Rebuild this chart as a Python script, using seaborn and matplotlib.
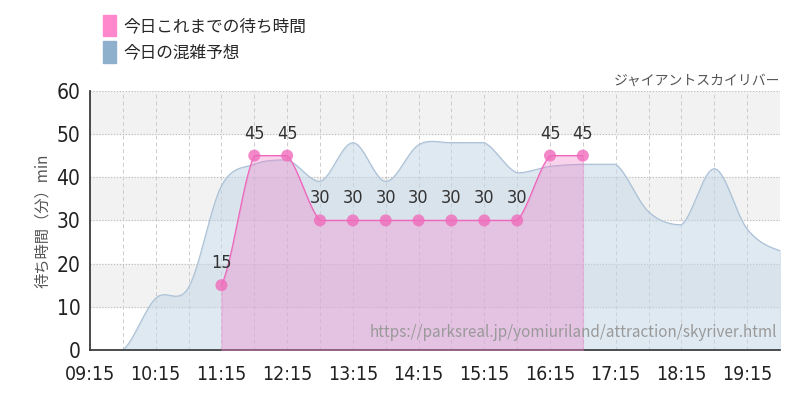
import numpy as np
import matplotlib.pyplot as plt
import seaborn as sns
from matplotlib.patches import Patch

# forecast (30-min steps from 09:15)
fc_hours = [9.25, 9.75, 10.25, 10.75, 11.25, 11.75, 12.25, 12.75, 13.25, 13.75, 14.25,
            14.75, 15.25, 15.75, 16.25, 16.75, 17.25, 17.75, 18.25, 18.75, 19.25, 19.75]
fc_wait = [0, 0, 12, 14.5, 38, 43, 44, 39, 48, 39, 47.5, 48, 48, 41, 42.5, 43, 43, 32, 29, 42, 28, 23]

# actual waits today
act_hours = [11.25, 11.75, 12.25, 12.75, 13.25, 13.75, 14.25, 14.75, 15.25, 15.75, 16.25, 16.75]
act_wait = [15, 45, 45, 30, 30, 30, 30, 30, 30, 30, 45, 45]

tick_labels = ["09:15", "10:15", "11:15", "12:15", "13:15", "14:15", "15:15",
               "16:15", "17:15", "18:15", "19:15"]


def smooth(x, y, n=12):
    # monotone-ish Hermite curve, for drawing only
    x = np.asarray(x, float); y = np.asarray(y, float)
    xs, ys = [], []
    for i in range(len(x) - 1):
        y0 = y[i - 1] if i > 0 else y[i]
        y3 = y[i + 2] if i + 2 < len(y) else y[i + 1]
        m1 = (y[i + 1] - y0) / 2
        m2 = (y3 - y[i]) / 2
        if (y[i + 1] - y[i]) * m1 <= 0: m1 = 0
        if (y[i + 1] - y[i]) * m2 <= 0: m2 = 0
        t = np.linspace(0, 1, n, endpoint=False)
        h00 = 2*t**3 - 3*t**2 + 1; h10 = t**3 - 2*t**2 + t
        h01 = -2*t**3 + 3*t**2; h11 = t**3 - t**2
        xs.append(x[i] + t * (x[i + 1] - x[i]))
        ys.append(h00*y[i] + h10*m1 + h01*y[i + 1] + h11*m2)
    xs.append([x[-1]]); ys.append([y[-1]])
    return np.concatenate(xs), np.concatenate(ys)


sns.set_theme(style="white")
plt.rcParams['font.family'] = ['Noto Sans CJK JP', 'DejaVu Sans']
num_font = dict(family="DejaVu Sans", stretch="condensed")

fig = plt.figure(figsize=(8, 4), dpi=100)
ax = fig.add_axes([0.1125, 0.125, 0.8625, 0.648])
ax.set_xlim(9.25, 19.75)
ax.set_ylim(0, 60)

for lo in (10, 30, 50):
    ax.axhspan(lo, lo + 10, color="#f2f2f2", zorder=0)
for yv in range(10, 61, 10):
    ax.axhline(yv, color="#bbbbbb", ls=":", lw=0.8, zorder=1)
for xv in np.arange(9.75, 19.8, 0.5):
    ax.axvline(xv, color="#cccccc", ls=(0, (4, 3)), lw=0.7, zorder=1)

fx, fy = smooth(fc_hours, fc_wait)
ax.fill_between(fx, fy, color="#c6d7e6", alpha=0.55, zorder=2)
ax.plot(fx, fy, color="#a9c0d6", lw=0.8, zorder=2)

axx, ay = smooth(act_hours, act_wait)
ax.fill_between(axx, ay, color="#f07ec8", alpha=0.35, zorder=3)
ax.plot(axx, ay, color="#ee66bb", lw=0.9, zorder=3)
sns.scatterplot(x=act_hours, y=act_wait, ax=ax, color="#f06cbc", s=75,
                edgecolor="none", alpha=0.8, zorder=4)
for h, w in zip(act_hours, act_wait):
    ax.text(h, w + 3, str(w), ha="center", va="bottom", fontsize=13,
            color="#333333", **num_font)

ax.set_xticks(np.arange(9.25, 19.3, 1.0))
ax.set_xticklabels(tick_labels, fontsize=14, color="#222222", **num_font)
ax.set_yticks(range(0, 61, 10))
ax.set_yticklabels([str(v) for v in range(0, 61, 10)], fontsize=15, color="#222222", **num_font)
ax.tick_params(axis="both", length=5, color="#333333", pad=2)
ax.tick_params(axis="x", direction="out", pad=6)
ax.set_ylabel("待ち時間（分）min", fontsize=11, color="#555555")
for s in ("top", "right"):
    ax.spines[s].set_visible(False)
ax.spines["left"].set_color("#333333")
ax.spines["bottom"].set_color("#333333")
ax.spines["bottom"].set_linewidth(1.2)

ax.text(19.75, 60.8, "ジャイアントスカイリバー", ha="right", va="bottom", fontsize=10, color="#555555")
ax.text(19.7, 2, "https://parksreal.jp/yomiuriland/attraction/skyriver.html",
        ha="right", va="bottom", fontsize=11, color="#999999", zorder=5)

handles = [Patch(color="#ff88cc", label="今日これまでの待ち時間"),
           Patch(color="#8fb0cc", label="今日の混雑予想")]
fig.legend(handles=handles, loc="upper left", bbox_to_anchor=(0.11, 1.0), frameon=False,
           fontsize=12, handlelength=0.8, handleheight=1.6, labelspacing=0.3, handletextpad=0.4)

fig.savefig("out.png", dpi=100)
